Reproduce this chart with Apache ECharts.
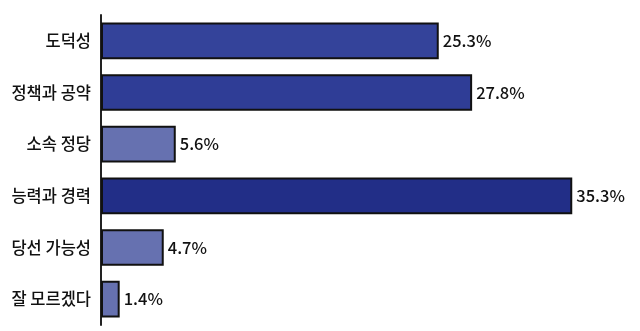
<!DOCTYPE html>
<html>
<head>
<meta charset="utf-8">
<script src="https://cdn.jsdelivr.net/npm/echarts@6/dist/echarts.min.js"></script>
<style>
  html, body { margin: 0; padding: 0; background: #fff; }
  #chart { width: 640px; height: 331px; }
</style>
</head>
<body>
<div id="chart"></div>
<script>
// 후보 선택 기준 (%)
var categories = ['도덕성', '정책과 공약', '소속 정당', '능력과 경력', '당선 가능성', '잘 모르겠다']
var values = [25.3, 27.8, 5.6, 35.3, 4.7, 1.4]
var barColors = ['#34439a', '#2f3d96', '#6671b0', '#222e87', '#6671b0', '#6671b0']

var chart = echarts.init(document.getElementById('chart'))

var option = {
  animation: false,
  textStyle: {
    fontFamily: '"Noto Sans CJK KR", "Noto Sans", sans-serif'
  },
  grid: {
    left: 101,
    right: 5,
    top: 15,
    bottom: 6,
    containLabel: false
  },
  xAxis: {
    type: 'value',
    min: 0,
    max: 40,
    show: false
  },
  yAxis: {
    type: 'category',
    inverse: true,
    data: categories,
    axisLine: {
      show: true,
      lineStyle: { color: '#222', width: 2 }
    },
    axisTick: { show: false },
    axisLabel: {
      color: '#111',
      fontSize: 16.5,
      fontWeight: 500,
      margin: 10
    }
  },
  series: [
    {
      type: 'bar',
      barWidth: '71%',
      data: values.map(function (v, i) {
        return { value: v, itemStyle: { color: barColors[i] } }
      }),
      itemStyle: {
        borderColor: '#111',
        borderWidth: 2
      },
      label: {
        show: true,
        position: 'right',
        distance: 4,
        color: '#111',
        fontSize: 16.5,
        fontWeight: 500,
        formatter: function (p) { return p.value.toFixed(1) + '%' }
      }
    }
  ]
}

chart.setOption(option)
</script>
</body>
</html>
